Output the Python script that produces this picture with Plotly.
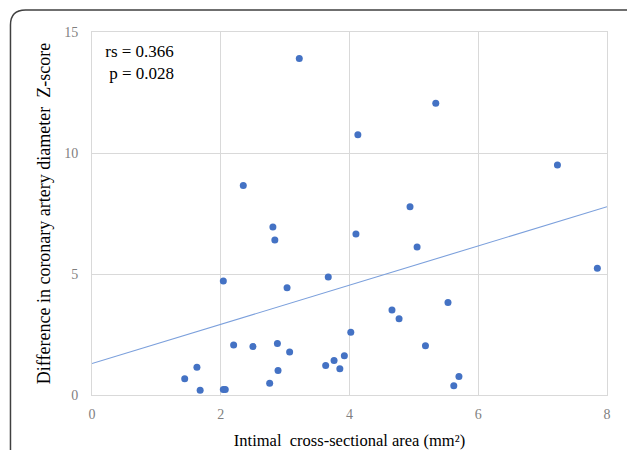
import plotly.graph_objects as go

# Data
icsa = [3.22, 5.34, 4.13, 7.23, 2.35, 4.94, 2.81, 2.84, 4.10, 5.05,
        3.67, 2.04, 3.03, 7.85, 4.66, 5.53, 4.77, 4.02, 2.20, 2.50,
        2.88, 3.07, 5.18, 1.63, 1.44, 1.68, 2.04, 2.07, 2.76, 2.89,
        3.63, 3.76, 3.92, 3.85, 5.70, 5.62]
zdiff = [13.91, 12.06, 10.75, 9.50, 8.66, 7.78, 6.94, 6.41, 6.65, 6.12,
         4.88, 4.71, 4.43, 5.24, 3.51, 3.82, 3.15, 2.59, 2.07, 2.00,
         2.13, 1.78, 2.04, 1.15, 0.67, 0.20, 0.23, 0.23, 0.49, 1.01,
         1.22, 1.43, 1.62, 1.08, 0.76, 0.38]

trend_x = [0, 8]
trend_intercept = 1.30
trend_slope = 0.81

x_ticks = [0, 2, 4, 6, 8]
y_ticks = [0, 5, 10, 15]

stats_text = "rs = 0.366<br> p = 0.028"
x_title = "Intimal  cross-sectional area (mm²)"
y_title = "Difference in coronary artery diameter  Z-score"

SERIF = "Liberation Serif, Times New Roman, serif"

fig = go.Figure()
fig.add_trace(go.Scatter(
    x=trend_x,
    y=[trend_intercept + trend_slope * v for v in trend_x],
    mode="lines",
    line=dict(color="#7CA0DC", width=1.1),
    hoverinfo="skip",
    showlegend=False,
))
fig.add_trace(go.Scatter(
    x=icsa, y=zdiff, mode="markers",
    marker=dict(color="#4472C4", size=7),
    showlegend=False,
))

fig.update_layout(
    width=627, height=450,
    margin=dict(l=92, r=20, t=32, b=55),
    paper_bgcolor="white", plot_bgcolor="white",
    font=dict(family=SERIF, color="#000000"),
    xaxis=dict(
        range=[0, 8], tickvals=x_ticks,
        showgrid=True, gridcolor="#D9D9D9", gridwidth=1,
        showline=True, linecolor="#D9D9D9", linewidth=1, mirror=True,
        zeroline=False, automargin=False,
        tickfont=dict(family=SERIF, size=14, color="#7F7F7F"),
        ticks="", ticklabelstandoff=6,
        title=dict(text=x_title, font=dict(family=SERIF, size=16.5, color="#000000"), standoff=14),
    ),
    yaxis=dict(
        range=[0, 15], tickvals=y_ticks,
        showgrid=True, gridcolor="#D9D9D9", gridwidth=1,
        showline=True, linecolor="#D9D9D9", linewidth=1, mirror=True,
        zeroline=False, automargin=False,
        tickfont=dict(family=SERIF, size=14, color="#7F7F7F"),
        ticks="", ticklabelstandoff=10,
        title=dict(text=y_title, font=dict(family=SERIF, size=18, color="#000000"), standoff=8),
    ),
    annotations=[dict(
        x=0.093, y=0.917, xref="paper", yref="paper",
        xanchor="center", yanchor="middle",
        text=stats_text, showarrow=False, align="center",
        font=dict(family=SERIF, size=17, color="#000000"),
    )],
    shapes=[dict(
        type="path", xref="paper", yref="paper",
        path="M -0.1583,-0.16 L -0.1583,1.0193 Q -0.1583,1.0606 -0.1291,1.0606 L 1.04,1.0606",
        line=dict(color="#404040", width=1.5),
    )],
)

fig.write_html("out.html", config={"displayModeBar": False},
               post_script="document.body.style.margin='0';")
